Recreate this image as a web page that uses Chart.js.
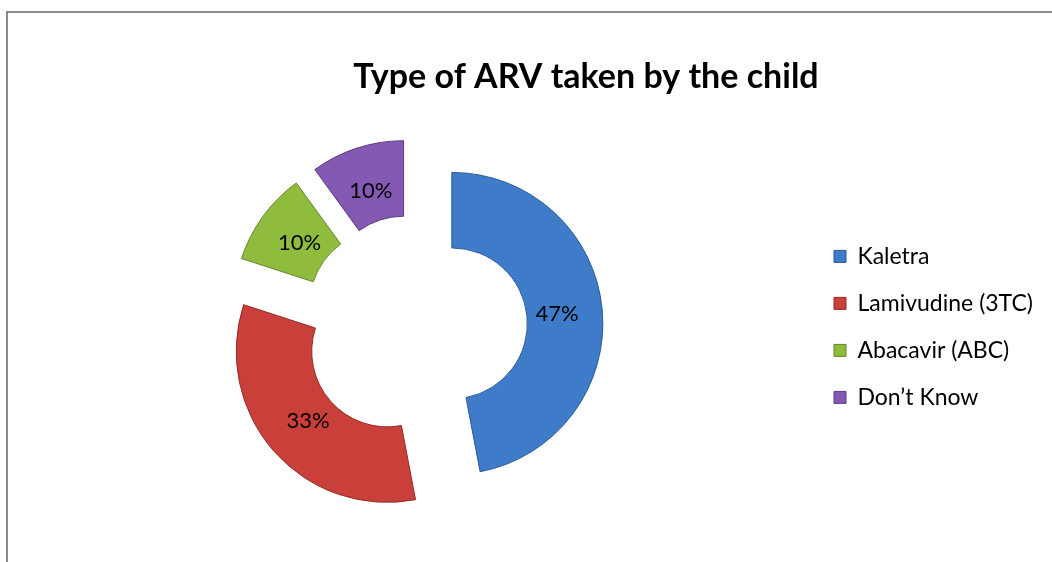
<!DOCTYPE html>
<html>
<head>
<meta charset="utf-8">
<script src="https://cdn.jsdelivr.net/npm/chart.js@4.4.0/dist/chart.umd.min.js"></script>
<style>
    html, body { margin: 0; padding: 0; background: #fff; width: 1052px; height: 562px; overflow: hidden; }
    #khung { position: absolute; left: 6px; top: 11px; width: 1200px; height: 600px; border: 2px solid #8a8a8a; box-sizing: border-box; }
    #vung { position: absolute; left: 0; top: 0; width: 1152px; height: 562px; }
</style>
</head>
<body>
<div id="khung"></div>
<div id="vung"><canvas id="bieudo"></canvas></div>
<script>
// Dữ liệu
var tieuDe = 'Type of ARV taken by the child';
var nhan = ['Kaletra', 'Lamivudine (3TC)', 'Abacavir (ABC)', 'Don\u2019t Know'];
var soLieu = [47, 33, 10, 10];

// Màu
var mauNen = ['#3e7bc8', '#c9403a', '#8fbc3c', '#8459b4'];
var mauVien = ['#2c5a96', '#932a26', '#65872a', '#5a3c82'];

var doTach = 37;       // khoang tach cac manh (px)
var banKinh = 151;     // ban kinh ngoai
var lePhai = 810;      // mep phai vung ve

// khoang trong ben phai chu thich
var khoangTrong = {
    id: 'khoangTrong',
    beforeInit: function (chart) {
        var hop = {
            position: 'right', weight: 1500, fullSize: false, options: {},
            isHorizontal: function () { return false; },
            update: function (w, h) {
                var lg = chart.legend ? chart.legend.width : 0;
                this.width = Math.max(0, chart.width - lePhai - lg);
                this.height = h;
            },
            draw: function () {}
        };
        Chart.layouts.addBox(chart, hop);
    }
};

// tach cac manh ra khoi tam
var tachManh = {
    id: 'tachManh',
    afterDatasetUpdate: function (chart, args) {
        args.meta.data.forEach(function (arc) {
            var goc = (arc.startAngle + arc.endAngle) / 2;
            arc.x = arc.x + Math.cos(goc) * doTach;
            arc.y = arc.y + Math.sin(goc) * doTach;
        });
    }
};

// nhan phan tram
var nhanPhanTram = {
    id: 'nhanPhanTram',
    afterDatasetsDraw: function (chart) {
        var meta = chart.getDatasetMeta(0);
        var ctx = chart.ctx;
        var tong = 0;
        soLieu.forEach(e => { tong = tong + e; });
        ctx.save();
        ctx.font = '22px Lato';
        ctx.fillStyle = '#000';
        ctx.textAlign = 'center';
        ctx.textBaseline = 'middle';
        meta.data.forEach(function (arc, i) {
            var goc = (arc.startAngle + arc.endAngle) / 2;
            var r = arc.innerRadius + 0.4 * (arc.outerRadius - arc.innerRadius);
            ctx.fillText(Math.round(soLieu[i] / tong * 100) + '%', arc.x + Math.cos(goc) * r, arc.y + Math.sin(goc) * r);
        });
        ctx.restore();
    }
};

new Chart(document.getElementById('bieudo'), {
    type: 'doughnut',
    data: {
        labels: nhan,
        datasets: [{
            data: soLieu,
            backgroundColor: mauNen,
            borderColor: mauVien,
            borderWidth: 1,
            hoverOffset: 0
        }]
    },
    options: {
        responsive: true,
        maintainAspectRatio: false,
        animation: false,
        events: [],
        radius: banKinh,
        cutout: '50%',
        layout: { padding: { left: 20, right: 0, top: 0, bottom: 18 } },
        plugins: {
            tooltip: { enabled: false },
            title: {
                display: true,
                text: tieuDe,
                color: '#000',
                font: { family: 'Lato', size: 34, weight: 'bold' },
                padding: { top: 57, bottom: 12 }
            },
            legend: {
                position: 'right',
                fullSize: false,
                labels: {
                    boxWidth: 12,
                    boxHeight: 12,
                    padding: 24,
                    color: '#000',
                    font: { family: 'Lato', size: 23 }
                }
            }
        }
    },
    plugins: [khoangTrong, tachManh, nhanPhanTram]
});
</script>
</body>
</html>
